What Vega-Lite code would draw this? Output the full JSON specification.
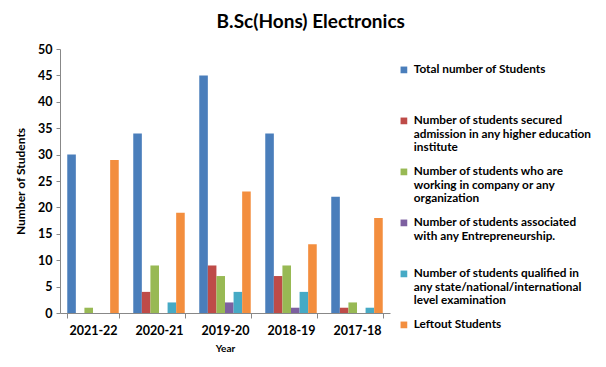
{
  "$schema": "https://vega.github.io/schema/vega-lite/v6.json",
  "width": 330,
  "height": 264,
  "padding": {"left": 14, "top": 13, "right": 5, "bottom": 5},
  "background": "white",
  "title": {"text": "B.Sc(Hons) Electronics", "font": "Lato", "fontSize": 19, "fontWeight": "bold", "color": "#000", "anchor": "middle", "frame": "bounds", "offset": 11},
  "data": {"values": [
    {"year": "2021-22", "series": "Total number of Students", "value": 30},
    {"year": "2021-22", "series": "Number of students secured admission in any higher education institute", "value": 0},
    {"year": "2021-22", "series": "Number of students who are working in company or any organization", "value": 1},
    {"year": "2021-22", "series": "Number of students associated with any Entrepreneurship.", "value": 0},
    {"year": "2021-22", "series": "Number of students qualified in any state/national/international level examination", "value": 0},
    {"year": "2021-22", "series": "Leftout Students", "value": 29},
    {"year": "2020-21", "series": "Total number of Students", "value": 34},
    {"year": "2020-21", "series": "Number of students secured admission in any higher education institute", "value": 4},
    {"year": "2020-21", "series": "Number of students who are working in company or any organization", "value": 9},
    {"year": "2020-21", "series": "Number of students associated with any Entrepreneurship.", "value": 0},
    {"year": "2020-21", "series": "Number of students qualified in any state/national/international level examination", "value": 2},
    {"year": "2020-21", "series": "Leftout Students", "value": 19},
    {"year": "2019-20", "series": "Total number of Students", "value": 45},
    {"year": "2019-20", "series": "Number of students secured admission in any higher education institute", "value": 9},
    {"year": "2019-20", "series": "Number of students who are working in company or any organization", "value": 7},
    {"year": "2019-20", "series": "Number of students associated with any Entrepreneurship.", "value": 2},
    {"year": "2019-20", "series": "Number of students qualified in any state/national/international level examination", "value": 4},
    {"year": "2019-20", "series": "Leftout Students", "value": 23},
    {"year": "2018-19", "series": "Total number of Students", "value": 34},
    {"year": "2018-19", "series": "Number of students secured admission in any higher education institute", "value": 7},
    {"year": "2018-19", "series": "Number of students who are working in company or any organization", "value": 9},
    {"year": "2018-19", "series": "Number of students associated with any Entrepreneurship.", "value": 1},
    {"year": "2018-19", "series": "Number of students qualified in any state/national/international level examination", "value": 4},
    {"year": "2018-19", "series": "Leftout Students", "value": 13},
    {"year": "2017-18", "series": "Total number of Students", "value": 22},
    {"year": "2017-18", "series": "Number of students secured admission in any higher education institute", "value": 1},
    {"year": "2017-18", "series": "Number of students who are working in company or any organization", "value": 2},
    {"year": "2017-18", "series": "Number of students associated with any Entrepreneurship.", "value": 0},
    {"year": "2017-18", "series": "Number of students qualified in any state/national/international level examination", "value": 1},
    {"year": "2017-18", "series": "Leftout Students", "value": 18}
  ]},
  "mark": {"type": "bar"},
  "encoding": {
    "x": {
      "field": "year", "type": "nominal", "sort": ["2021-22", "2020-21", "2019-20", "2018-19", "2017-18"],
      "scale": {"paddingInner": 0.22, "paddingOuter": 0.11},
      "axis": {"title": "Year", "labelAngle": 0, "labelFont": "Lato", "labelFontWeight": "bold", "labelFontSize": 12.5, "labelColor": "#000", "titleFont": "Lato", "titleFontSize": 10, "titleFontWeight": "bold", "titleColor": "#000", "titlePadding": 7, "domainColor": "#888", "tickColor": "#888", "tickBand": "extent", "tickSize": 5, "labelPadding": 6}
    },
    "xOffset": {
      "field": "series", "type": "nominal",
      "sort": ["Total number of Students", "Number of students secured admission in any higher education institute", "Number of students who are working in company or any organization", "Number of students associated with any Entrepreneurship.", "Number of students qualified in any state/national/international level examination", "Leftout Students"],
      "scale": {"paddingInner": 0, "paddingOuter": 0}
    },
    "y": {
      "field": "value", "type": "quantitative",
      "scale": {"domain": [0, 50]},
      "axis": {"title": "Number of Students", "values": [0, 5, 10, 15, 20, 25, 30, 35, 40, 45, 50], "grid": false, "labelFont": "Lato", "labelFontWeight": "bold", "labelFontSize": 12.5, "labelColor": "#000", "titleFont": "Lato", "titleFontSize": 12, "titleFontWeight": "bold", "titleColor": "#000", "titlePadding": 10, "domainColor": "#888", "tickColor": "#888", "tickSize": 4, "labelPadding": 4}
    },
    "color": {
      "field": "series", "type": "nominal",
      "scale": {
        "domain": ["Total number of Students", "Number of students secured admission in any higher education institute", "Number of students who are working in company or any organization", "Number of students associated with any Entrepreneurship.", "Number of students qualified in any state/national/international level examination", "Leftout Students"],
        "range": ["#4A7EBB", "#BE4B48", "#98B954", "#7D60A0", "#46AAC5", "#F38E3E"]
      },
      "legend": {
        "title": null,
        "symbolType": "square",
        "symbolSize": 45,
        "symbolStrokeWidth": 0,
        "labelFont": "Lato",
        "labelFontWeight": "bold",
        "labelFontSize": 11.8,
        "labelLineHeight": 16,
        "labelColor": "#000",
        "labelLimit": 300,
        "labelBaseline": "top",
        "labelOffset": 4,
        "rowPadding": 10,
        "offset": -7,
        "padding": 15,
        "encode": {"labels": {"update": {"dy": {"value": -6}}}},
        "labelExpr": "datum.label == 'Total number of Students' ? ['Total number of Students', ' ', ' '] : datum.label == 'Number of students secured admission in any higher education institute' ? ['Number of students secured', 'admission in any higher education', 'institute'] : datum.label == 'Number of students who are working in company or any organization' ? ['Number of students who are', 'working in company or any', 'organization'] : datum.label == 'Number of students associated with any Entrepreneurship.' ? ['Number of students associated', 'with any Entrepreneurship.', ' '] : datum.label == 'Number of students qualified in any state/national/international level examination' ? ['Number of students qualified in', 'any state/national/international', 'level examination'] : ['Leftout Students']"
      }
    }
  },
  "config": {"view": {"stroke": null}}
}
